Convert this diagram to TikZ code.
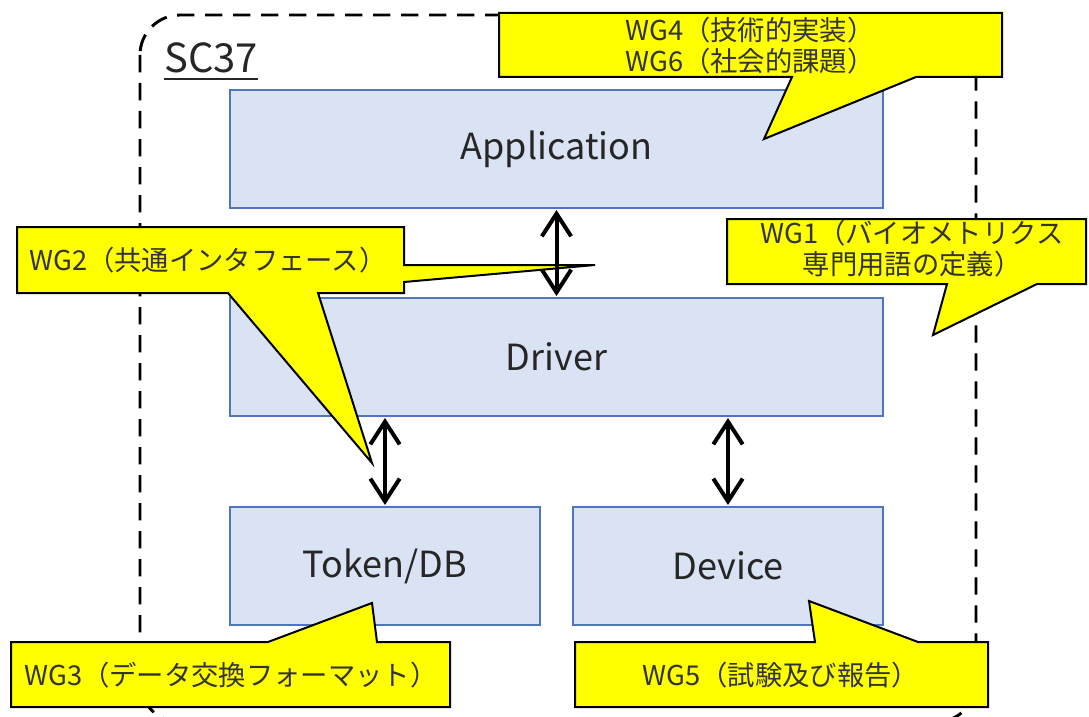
\documentclass[tikz,border=0pt]{standalone}
\usepackage{fontspec}
\setmainfont{Noto Sans CJK JP}
\usepackage{xcolor}
\usetikzlibrary{arrows.meta, positioning}

\definecolor{boxfill}{HTML}{DAE3F3}
\definecolor{boxline}{HTML}{4F75BE}
\definecolor{wgyellow}{HTML}{FFFF00}

\begin{document}
\begin{tikzpicture}[
        x=0.75pt, y=-0.75pt,
        >={Straight Barb[length=17pt, width=22pt]},
        block/.style={draw=boxline, fill=boxfill, line width=1pt, minimum height=88.5pt, inner sep=0pt, text=black!85, font=\fontsize{27}{32}\selectfont},
        bubble/.style={draw=black, fill=wgyellow, line width=1.5pt, line join=miter},
        bubble_text/.style={align=center, inner sep=0pt, text=black!80, font=\fontsize{20.5}{23.25}\selectfont},
        link/.style={<->, line width=3pt, shorten <=1pt, shorten >=1pt},
        sc_frame/.style={line width=2.2pt, dash pattern=on 13pt off 8pt, rounded corners=30pt}
    ]
        \useasboundingbox (0,0) rectangle (1089,717);
        \clip (0,0) rectangle (1089,717);

        % Committee frame (bottom edge runs off the page)
        \draw[sc_frame] (140,15) rectangle (976,722);
        \node[inner sep=0pt, anchor=base west, font=\fontsize{30}{36}\selectfont, text=black!85] (sc) at (164,73) {SC37};
        \draw[line width=1.4pt, black!85] ([yshift=-4pt]sc.south west) -- ([yshift=-4pt]sc.south east);

        % Layers
        \node[block, minimum width=489.75pt] (app) at (556.5,149) {Application};
        \node[block, minimum width=489.75pt] (drv) at (556.5,357) {Driver};
        \node[block, minimum width=232.5pt] (tok) at (385,566) {Token/DB};
        \node[block, minimum width=232.5pt] (dev) at (728,566) {Device};

        % Working group callouts
        \draw[bubble] (499,13) -- (1002,13) -- (1002,77) -- (916,77) -- (764,139) -- (792,77) -- (499,77) -- cycle;
        \node[bubble_text] (wg4) at (750,46) {WG4（技術的実装）\\WG6（社会的課題）};

        \draw[bubble] (727,219) -- (1086,219) -- (1086,284) -- (1037,284) -- (933,335) -- (947,284) -- (727,284) -- cycle;
        \node[bubble_text] (wg1) at (912,249) {WG1（バイオメトリクス\\専門用語の定義）};

        \draw[bubble] (17,227) -- (404,227) -- (404,265) -- (595,265) -- (404,282) -- (404,293) -- (318,293) -- (372,463) -- (228,293) -- (17,293) -- cycle;
        \node[bubble_text] (wg2) at (208,260) {WG2（共通インタフェース）};

        \draw[bubble] (11,642) -- (268,642) -- (372,603) -- (377,642) -- (450,642) -- (450,707) -- (11,707) -- cycle;
        \node[bubble_text] (wg3) at (231,675) {WG3（データ交換フォーマット）};

        \draw[bubble] (575,642) -- (815,642) -- (809,601) -- (918,642) -- (988,642) -- (988,707) -- (575,707) -- cycle;
        \node[bubble_text] (wg5) at (781,675) {WG5（試験及び報告）};

        % Interfaces between layers
        \draw[link] (app.south) -- (drv.north);
        \draw[link] (drv.south -| tok.north) -- (tok.north);
        \draw[link] (drv.south -| dev.north) -- (dev.north);

\end{tikzpicture}
\end{document}
